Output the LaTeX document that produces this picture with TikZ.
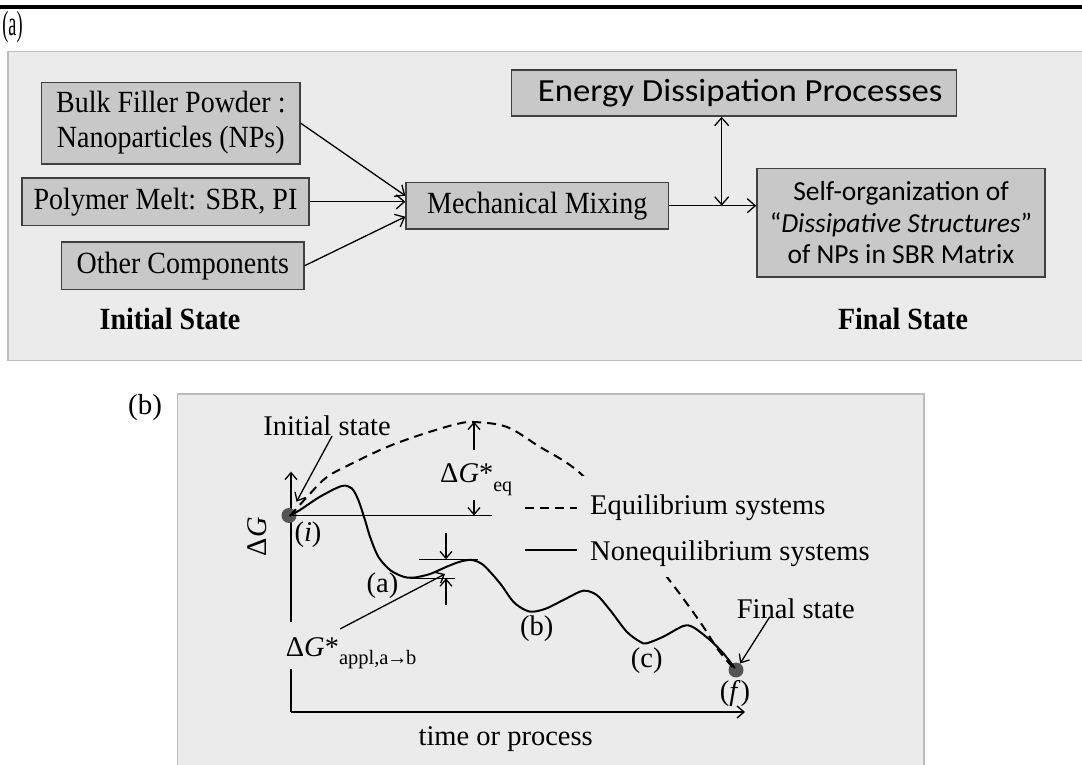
\documentclass[tikz,border=0pt]{standalone}
\usepackage{fontspec}
\setmainfont{Liberation Serif}
\newfontfamily\calibri{Carlito}
\usetikzlibrary{arrows.meta,calc}

\definecolor{panelbg}{HTML}{EBEBEB}
\definecolor{panelrule}{HTML}{BDBDBD}
\definecolor{boxfill}{HTML}{C8C8C8}
\definecolor{boxrule}{HTML}{404040}
\definecolor{dotgray}{HTML}{555555}

\newcommand{\fsz}[1]{\fontsize{#1}{#1}\selectfont}
% serif lettering of the flow chart is set a little taller than wide
\newcommand{\tall}[1]{\scalebox{1}[1.1]{#1}}

\tikzset{
  panel/.style={draw=panelrule, line width=1.5pt, fill=panelbg},
  box/.style={draw=boxrule, line width=1.5pt, fill=boxfill, inner sep=0pt,
    align=center, font=\fontsize{28}{32}\selectfont},
  barb/.tip={Straight Barb[length=8pt,width=14pt,line width=1.3pt]},
  sbarb/.tip={Straight Barb[length=7pt,width=12pt,line width=1.3pt]},
  link/.style={line width=1.3pt, -barb},
  dlink/.style={line width=1.3pt, barb-barb},
  axis/.style={line width=1.5pt},
  ptr/.style={line width=1.3pt, -sbarb},
  lbl/.style={inner sep=2pt, font=\fsz{28.5}},
  state/.style={circle, fill=dotgray, minimum size=15pt, inner sep=0pt},
  curve/.style={line width=2pt, line join=round},
  dcurve/.style={line width=2pt, dash pattern=on 9pt off 6pt},
}

\begin{document}
\begin{tikzpicture}[x=1pt,y=1pt]
\useasboundingbox (0,0) rectangle (1082,764);
\fill[white] (0,0) rectangle (1082,764);

% top rule and panel tag
\draw[line width=3.5pt] (0,757) -- (1082,757);
\node[inner sep=0pt, font=\fsz{35}] (tagA) at (12.5,737) {\scalebox{0.52}[1]{(a)}};

% ---------------- panel (a): flow chart ----------------
\draw[panel] (8,403.5) rectangle (1095,712.5);

\node[box, minimum width=258.3pt, minimum height=81.7pt] (bulk) at (170.8,640.8)
  {\tall{\begin{tabular}{@{}c@{}}Bulk Filler Powder :\\Nanoparticles (NPs)\end{tabular}}};
\node[box, minimum width=287pt, minimum height=47.7pt] (poly) at (165.5,562.2)
  {\tall{Polymer Melt: SBR, PI}};
\node[box, minimum width=242.3pt, minimum height=47.3pt] (other) at (182.8,498.3)
  {\tall{Other Components}};
\node[box, minimum width=262.3pt, minimum height=46.7pt] (mix) at (537.2,558.3)
  {\tall{Mechanical Mixing}};
\node[box, minimum width=445pt, minimum height=46pt, font=\calibri\fsz{31}] (energy) at (734.2,671)
  {\hspace*{12pt}\scalebox{1.12}[1.04]{Energy Dissipation Processes}};
\node[box, minimum width=288pt, minimum height=108.7pt, font=\calibri\fontsize{27.5}{31.5}\selectfont] (self) at (901,541.3)
  {Self-organization of\\“\textit{Dissipative Structures}”\\of NPs in SBR Matrix};

\node[font=\bfseries\fsz{28}, anchor=base] (init) at (170,434) {\tall{Initial State}};
\node[font=\bfseries\fsz{28}, anchor=base] (final) at (903,434) {\tall{Final State}};

\coordinate (mixin1) at ($(mix.west)+(0,10)$);
\coordinate (mixin3) at ($(mix.west)+(0,-11)$);
\draw[link] (bulk.east) -- (mixin1);
\draw[link] (poly.east) -- (poly.east -| mix.west);
\draw[link] (other.east) -- (mixin3);
\draw[link] (mix.east) -- (mix.east -| self.west);
\coordinate (jn) at (721.7,558.3);
\draw[dlink] (energy.south -| jn) -- (jn);

% ---------------- panel (b): free-energy path ----------------
\node[inner sep=0pt, font=\fsz{29}] (tagB) at (145,356) {(b)};
\draw[panel] (177.3,-5) rectangle (924,370);

% axes
\coordinate (origin) at (291,52);
\coordinate (ytip) at (291,292.3);
\coordinate (xtip) at (745,52);
\draw[axis] (origin) -- (291,95);
\draw[axis, -sbarb] (291,142) -- (ytip);
\draw[axis, -sbarb] (origin) -- (xtip);
\node[lbl, rotate=90] (dg) at (257.5,227.3) {Δ\textit{G}};
\node[lbl, anchor=base] (time) at (505.7,19) {time or process};

% initial and final states
\node[state] (i) at (289,248.5) {};
\node[state] (f) at (736,94) {};
\draw[line width=1.3pt] (i.center) -- (491.7,248.5);

% equilibrium path (dashed) and nonequilibrium path (solid)
\draw[dcurve] plot[smooth, tension=0.55] coordinates {
  (290,248) (307,267) (327,287) (353,301) (387,317) (420,329) (453,339)
  (473,342) (507,337) (540,317) (567,301) (587,284) (627,237) (666.7,187.3)
  (686.7,160.7) (703.3,137.3) (718.3,114) (735,94)};
\draw[curve] plot[smooth, tension=0.5] coordinates {
  (290,248.5) (300,254) (320,267.3) (341.7,278) (351.7,275.7) (358.3,264)
  (365,244) (370,227.3) (378.3,207.3) (390,194) (403.3,187.3) (413.3,186.3)
  (430,190) (446.7,197.3) (460,202.3) (471.7,204) (483.3,199) (500,180.7)
  (513.3,162.3) (525,154) (533.3,152.3) (546.7,155.7) (566.7,165.7)
  (583.3,173.3) (596.7,169) (610,154) (626.7,132.3) (640,122.3)
  (646.7,120.7) (663.3,127.3) (683.3,138) (693.3,136.7) (710,124)
  (723.3,110.7) (735,95.7)};

% legend
\fill[panelbg] (582,187) rectangle (880,288);
\draw[dcurve] (525,255.7) -- (577,255.7);
\draw[curve] (525,214) -- (577,214);
\node[lbl, anchor=base west, inner sep=0pt] (leq) at (590,249) {Equilibrium systems};
\node[lbl, anchor=base west, inner sep=0pt] (lneq) at (590,204) {Nonequilibrium systems};

% barrier of the equilibrium path
\draw[ptr] (474,314) -- (474,342.3);
\draw[ptr] (474,264) -- (474,248.5);
\node[lbl, anchor=base west, inner sep=0pt] (geq) at (440,281)
  {Δ\textit{G}*\raisebox{-9pt}{\fsz{20}eq}};

% applied barrier between (a) and (b)
\draw[line width=1.3pt] (419.3,204.7) -- (478.3,204.7);
\draw[line width=1.3pt] (410,185.7) -- (455,185.7);
\draw[ptr] (446,231.3) -- (446,204.7);
\draw[ptr] (446,159) -- (446,185.7);
\node[lbl, anchor=base west, inner sep=0pt] (appl) at (285.7,108)
  {Δ\textit{G}*\raisebox{-8pt}{\fsz{20.5}appl,a\kern-1.5pt→\kern-1.5pt b}};
\coordinate (applend) at (445,190);
\draw[ptr] ($(appl.north)+(-11,8)$) -- (applend);

% state labels
\node[lbl] (ilbl) at (308,229) {(\textit{i})};
\node[lbl] (flbl) at (735,70.7) {(\textit{f})};
\node[lbl] (la) at (382.5,178) {(a)};
\node[lbl] (lb) at (536.7,135) {(b)};
\node[lbl] (lc) at (646.7,103) {(c)};
\node[lbl, anchor=base] (istate) at (327,328.3) {Initial state};
\node[lbl, anchor=base] (fstate) at (795.8,145.7) {Final state};
\draw[ptr, shorten >=8pt] ($(istate.south)+(5,2)$) -- (i);
\draw[ptr] ($(fstate.south)+(-26,4)$) -- (f);
\end{tikzpicture}
\end{document}
